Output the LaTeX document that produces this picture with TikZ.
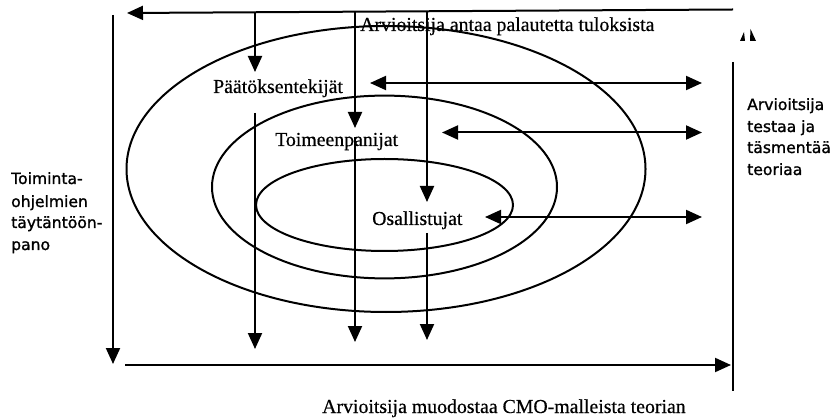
\documentclass[tikz,border=0pt]{standalone}
\usepackage{fontspec}
\setmainfont{Liberation Serif}
\newfontfamily\rolefont{Liberation Serif}[FakeBold=0.4]
\newfontfamily\labelsans{DejaVu Sans}[FakeBold=1.2]
\usetikzlibrary{arrows.meta}

\tikzset{
  line/.style={line width=2pt, line cap=butt},
  arr/.style={line, -{Triangle[length=16pt,width=14pt]}},
  darr/.style={line, {Triangle[length=16pt,width=14pt]}-{Triangle[length=16pt,width=14pt]}},
  ring/.style={line width=2pt},
  role/.style={inner sep=0pt, anchor=base west, font=\rolefont\fontsize{19.8}{23}\selectfont},
  side/.style={inner sep=0pt, anchor=base west, font=\labelsans\fontsize{15.6}{22}\selectfont},
}

\begin{document}
\begin{tikzpicture}[x=1pt, y=-1pt]
  \useasboundingbox (0,0) rectangle (834,419);

  % nested stakeholder rings
  \draw[ring] (386,169) ellipse [x radius=259.5pt, y radius=143pt];
  \draw[ring] (384.5,187) ellipse [x radius=172.5pt, y radius=91.4pt];
  \draw[ring] (384.5,205) ellipse [x radius=128.5pt, y radius=46pt];

  % frame end points
  \coordinate (topR) at (733,9.5);
  \coordinate (topL) at (127,13);
  \coordinate (leftT) at (113,15);
  \coordinate (leftB) at (113,364);
  \coordinate (botL) at (125,365);
  \coordinate (botR) at (731,365);
  \coordinate (rightT) at (733,62);
  \coordinate (rightB) at (733,391);

  % feedback from the top bar down to each group
  \coordinate (fa) at (255,12);   \coordinate (fa2) at (255,72);
  \coordinate (fb) at (355,12);   \coordinate (fb2) at (355,128);
  \coordinate (fc) at (427,11);   \coordinate (fc2) at (427,202);
  % from each group down to the bottom bar
  \coordinate (da) at (255,113);  \coordinate (da2) at (255,349);
  \coordinate (db) at (355,137);  \coordinate (db2) at (355,342);
  \coordinate (dc) at (427,233);  \coordinate (dc2) at (427,340);
  % two-way arrows between the groups and the evaluator
  \coordinate (ha) at (370,83);   \coordinate (ha2) at (702,83);
  \coordinate (hb) at (442,132.5);\coordinate (hb2) at (702,132.5);
  \coordinate (hc) at (485,217);  \coordinate (hc2) at (702,217);

  \draw[arr] (topR) -- (topL);
  \draw[arr] (leftT) -- (leftB);
  \draw[arr] (botL) -- (botR);
  \draw[line] (rightT) -- (rightB);

  \draw[arr] (fa) -- (fa2);
  \draw[arr] (fb) -- (fb2);
  \draw[arr] (fc) -- (fc2);
  \draw[arr] (da) -- (da2);
  \draw[arr] (db) -- (db2);
  \draw[arr] (dc) -- (dc2);

  \draw[darr] (ha) -- (ha2);
  \draw[darr] (hb) -- (hb2);
  \draw[darr] (hc) -- (hc2);

  % small upward mark beside the right bar
  \fill (740,41) -- (745,41) -- (744,32) -- cycle;
  \fill (750,41) -- (756,41) -- (750.5,29) -- cycle;

  % labels
  \node[role] (feedback) at (360,31) {Arvioitsija antaa palautetta tuloksista};
  \node[role] (paat) at (213,93) {Päätöksentekijät};
  \node[role] (toim) at (275,146) {Toimeenpanijat};
  \node[role] (osal) at (372,225) {Osallistujat};
  \node[role] (theory) at (322,413) {Arvioitsija muodostaa CMO-malleista teorian};

  \node[side] (impl1) at (11,184) {Toiminta-};
  \node[side] (impl2) at (11,207) {ohjelmien};
  \node[side] (impl3) at (11,228) {täytäntöön-};
  \node[side] (impl4) at (11,250) {pano};

  \node[side] (test1) at (747,110) {Arvioitsija};
  \node[side] (test2) at (747,132) {testaa ja};
  \node[side] (test3) at (747,153) {täsmentää};
  \node[side] (test4) at (747,175) {teoriaa};
\end{tikzpicture}
\end{document}
